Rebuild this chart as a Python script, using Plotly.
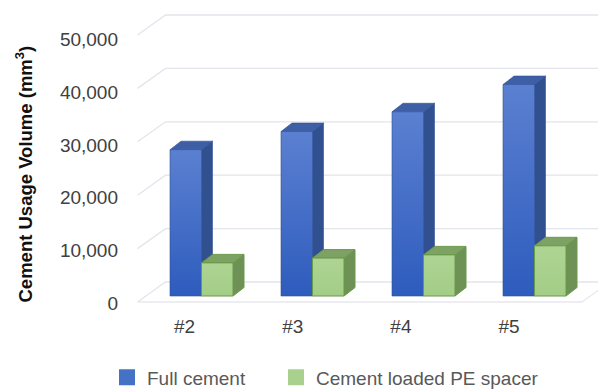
import plotly.graph_objects as go

# ---- data ----
categories = ["#2", "#3", "#4", "#5"]
full_cement = [27400, 30800, 34500, 39600]
pe_spacer = [6200, 7100, 7700, 9400]
series_names = ["Full cement", "Cement loaded PE spacer"]
y_ticks = [0, 10000, 20000, 30000, 40000, 50000]
y_tick_text = ["0", "10,000", "20,000", "30,000", "40,000", "50,000"]

# ---- pseudo-3D geometry (x in category units, y in data units) ----
PX_PER_CAT = 111.0
UNITS_PER_PX = 1000 / 5.34
WALL_DX, WALL_DY = 28 / PX_PER_CAT, 20 * UNITS_PER_PX
BAR_DX, BAR_DY = 11 / PX_PER_CAT, 8.5 * UNITS_PER_PX
BAR_LIFT = 0.3 * WALL_DY
BAR_SHIFT = -9.25 / PX_PER_CAT
BAR_W = 31.5 / PX_PER_CAT
X_MIN, X_MAX = -0.3896, 3.7725
WALL_X = -0.376
FLOOR_END = 3.627
Y_MIN, Y_MAX = -16 * UNITS_PER_PX, 297 * UNITS_PER_PX

# label axes sit on the front plane, which is slightly compressed
LBL_X_RANGE = [(136 - 184.5) / 108.2, (598 - 184.5) / 108.2]
LBL_Y_RANGE = [-(318 - 303) / 5.27 * 1000, (303 - 5) / 5.27 * 1000]

GRID = "#E4E4EC"
GRID_SIDE = "#E9E9EE"

fig = go.Figure()

# back wall gridlines and side-wall diagonals
for v in y_ticks:
    fig.add_trace(go.Scatter(
        x=[WALL_X, WALL_X + WALL_DX, X_MAX + 1],
        y=[v, v + WALL_DY, v + WALL_DY],
        mode="lines", line=dict(color=GRID, width=1.3),
        hoverinfo="skip", showlegend=False))
# floor front edge
fig.add_trace(go.Scatter(
    x=[WALL_X, FLOOR_END, FLOOR_END + WALL_DX],
    y=[0, 0, WALL_DY],
    mode="lines", line=dict(color=GRID_SIDE, width=1.3),
    hoverinfo="skip", showlegend=False))


def box(x0, width, value, front, side, top, edge, grad=None):
    x1 = x0 + width
    b = BAR_LIFT
    t = BAR_LIFT + value
    faces = [
        ([x1, x1, x1 + BAR_DX, x1 + BAR_DX, x1], [b, t, t + BAR_DY, b + BAR_DY, b], side, None),
        ([x0, x1, x1 + BAR_DX, x0 + BAR_DX, x0], [t, t, t + BAR_DY, t + BAR_DY, t], top, None),
        ([x0, x1, x1, x0, x0], [b, b, t, t, b], front, grad),
    ]
    for xs, ys, col, g in faces:
        kw = dict(fillcolor=col)
        if g is not None:
            kw["fillgradient"] = dict(type="vertical", colorscale=g)
        fig.add_trace(go.Scatter(
            x=xs, y=ys, mode="lines", fill="toself",
            line=dict(color=edge, width=1),
            hoverinfo="skip", showlegend=False, **kw))


for i, (fv, pv) in enumerate(zip(full_cement, pe_spacer)):
    left = i + BAR_SHIFT
    box(left, BAR_W, fv, "#4472C4", "#30508F", "#3E5EA6", "rgba(47,80,150,0.6)",
        grad=[[0, "#2E5CBD"], [1, "#5B80D1"]])
    box(left + BAR_W, BAR_W, pv, "#A9D18E", "#6E9155", "#7EA164", "#6A9A4B",
        grad=[[0, "#A3CD87"], [1, "#AED493"]])

# legend entries (on the label axes so those axes are drawn)
fig.add_trace(go.Scatter(x=[None], y=[None], mode="markers", name=series_names[0],
                         xaxis="x2", yaxis="y2", legend="legend",
                         marker=dict(symbol="square", size=16, color="#4472C4")))
fig.add_trace(go.Scatter(x=[None], y=[None], mode="markers", name=series_names[1],
                         xaxis="x2", yaxis="y2", legend="legend2",
                         marker=dict(symbol="square", size=16, color="#A9D18E")))

font_family = "Liberation Sans, Arial, sans-serif"
legend_common = dict(orientation="h", xref="container", yref="container",
                     y=1 - 377.5 / 390, xanchor="left", yanchor="middle",
                     font=dict(size=19, color="#595959"),
                     itemclick=False, itemdoubleclick=False, bgcolor="rgba(0,0,0,0)")

hidden = dict(showgrid=False, zeroline=False, showline=False, ticks="",
              showticklabels=False, fixedrange=True)

fig.update_layout(
    width=598, height=390,
    margin=dict(l=136, r=0, t=5, b=72),
    paper_bgcolor="white", plot_bgcolor="white",
    font=dict(family=font_family, size=19, color="#404040"),
    xaxis=dict(range=[X_MIN, X_MAX], **hidden),
    yaxis=dict(range=[Y_MIN, Y_MAX], **hidden),
    xaxis2=dict(range=LBL_X_RANGE, overlaying="x", side="bottom",
                tickvals=list(range(len(categories))), ticktext=categories,
                showgrid=False, zeroline=False, showline=False, ticks="",
                ticklabelstandoff=-5, tickfont=dict(size=19, color="#404040"),
                fixedrange=True),
    yaxis2=dict(range=LBL_Y_RANGE, overlaying="y", side="left",
                tickvals=y_ticks, ticktext=y_tick_text,
                showgrid=False, zeroline=False, showline=False, ticks="",
                ticklabelstandoff=17, tickfont=dict(size=19, color="#404040"),
                fixedrange=True),
    legend=dict(x=107 / 598, **legend_common),
    legend2=dict(x=276 / 598, **legend_common),
    annotations=[dict(
        text="<b>Cement Usage Volume (mm<sup>3</sup>)</b>",
        xref="paper", yref="paper", x=0, y=(318 - 174.5) / 313,
        xanchor="center", yanchor="middle", xshift=-112, textangle=-90,
        showarrow=False, font=dict(size=18.5, color="#111111", family=font_family))],
)

fig.write_html("out.html")
